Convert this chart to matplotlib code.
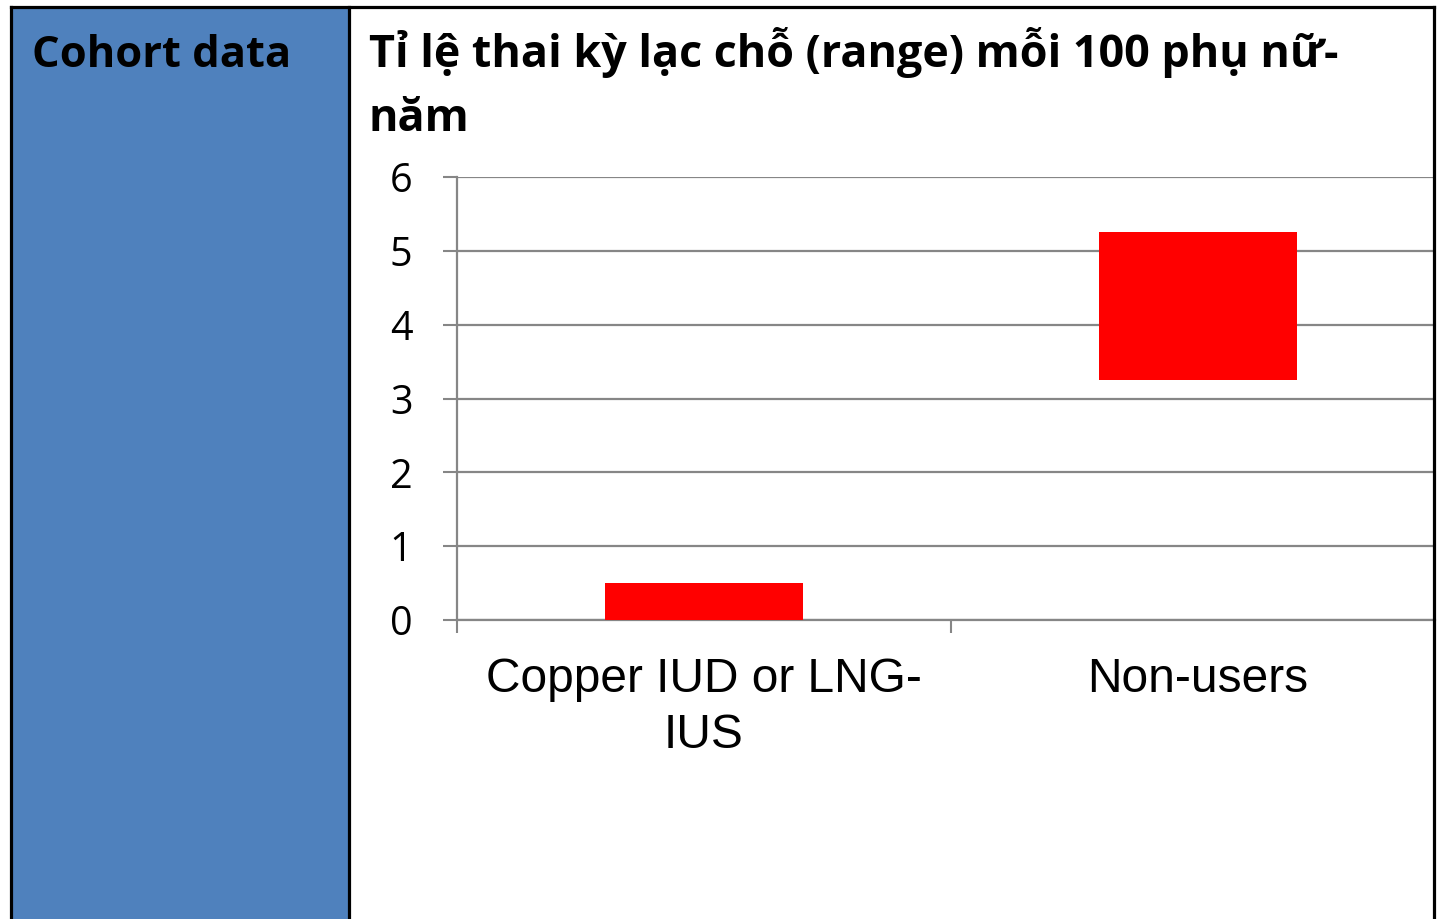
import matplotlib
matplotlib.use('Agg')
import matplotlib.pyplot as plt
from matplotlib.patches import Rectangle
from matplotlib.lines import Line2D

# data
categories = ['Copper IUD or LNG-\nIUS', 'Non-users']
range_low = [0.0, 3.25]
range_high = [0.5, 5.25]
y_ticks = [0, 1, 2, 3, 4, 5, 6]

side_title = 'Cohort data'
title_line1 = 'Tỉ lệ thai kỳ lạc chỗ (range) mỗi 100 phụ nữ-'
title_line2 = 'năm'

W, H = 1437, 919
fig = plt.figure(figsize=(W / 100, H / 100), dpi=100)
fig.patch.set_facecolor('white')

def fx(px):
    return px / W

def fy(py):
    return 1 - py / H

# blue side panel + borders
fig.patches.append(Rectangle((fx(11), 0), fx(349) - fx(11), fy(7), transform=fig.transFigure,
                             facecolor='#4F81BD', edgecolor='none', zorder=0))
for xs, ys in [([fx(11), fx(11)], [0, fy(7)]),
               ([fx(349), fx(349)], [0, fy(7)]),
               ([fx(1434), fx(1434)], [0, fy(7)]),
               ([fx(11), fx(1434)], [fy(7), fy(7)])]:
    fig.lines.append(Line2D(xs, ys, transform=fig.transFigure, color='black', lw=2.3, zorder=5))

bold_font = ['Open Sans', 'DejaVu Sans']
fig.text(fx(32), fy(67), side_title, fontsize=31.3, fontweight='bold', family=bold_font,
         va='baseline', ha='left')
fig.text(fx(369), fy(67), title_line1, fontsize=32.3, fontweight='bold', family=bold_font,
         va='baseline', ha='left')
fig.text(fx(369), fy(131), title_line2, fontsize=32.3, fontweight='bold', family=bold_font,
         va='baseline', ha='left')

# chart
ax = fig.add_axes([fx(457), fy(620), fx(1435) - fx(457), (620 - 177) / H])
x = list(range(len(categories)))
heights = [h - l for l, h in zip(range_low, range_high)]
ax.bar(x, heights, bottom=range_low, width=0.4, color='#FF0000', zorder=3)

ax.set_xlim(-0.5, 1.48)
ax.set_ylim(0, 6)
ax.set_yticks(y_ticks)
ax.set_yticklabels([str(t) for t in y_ticks], family=['Open Sans', 'DejaVu Sans'], fontsize=28.5)
ax.set_xticks(x)
ax.set_xticklabels(categories, family=['Liberation Sans', 'DejaVu Sans'], fontsize=34.5,
                   linespacing=1.3)
ax.set_xticks([-0.5, 0.5], minor=True)
ax.tick_params(axis='x', which='major', length=0, pad=27)
ax.tick_params(axis='x', which='minor', length=9.5, width=1.5, color='#868686', direction='out')
ax.tick_params(axis='y', length=10, width=1.5, color='#868686', pad=22)

ax.grid(axis='y', color='#868686', lw=1.6, zorder=1)
ax.set_axisbelow(True)
for s in ['top', 'right']:
    ax.spines[s].set_visible(False)
for s in ['left', 'bottom']:
    ax.spines[s].set_color('#868686')
    ax.spines[s].set_linewidth(1.6)
ax.patch.set_alpha(0)

fig.savefig('out.png', dpi=100)
